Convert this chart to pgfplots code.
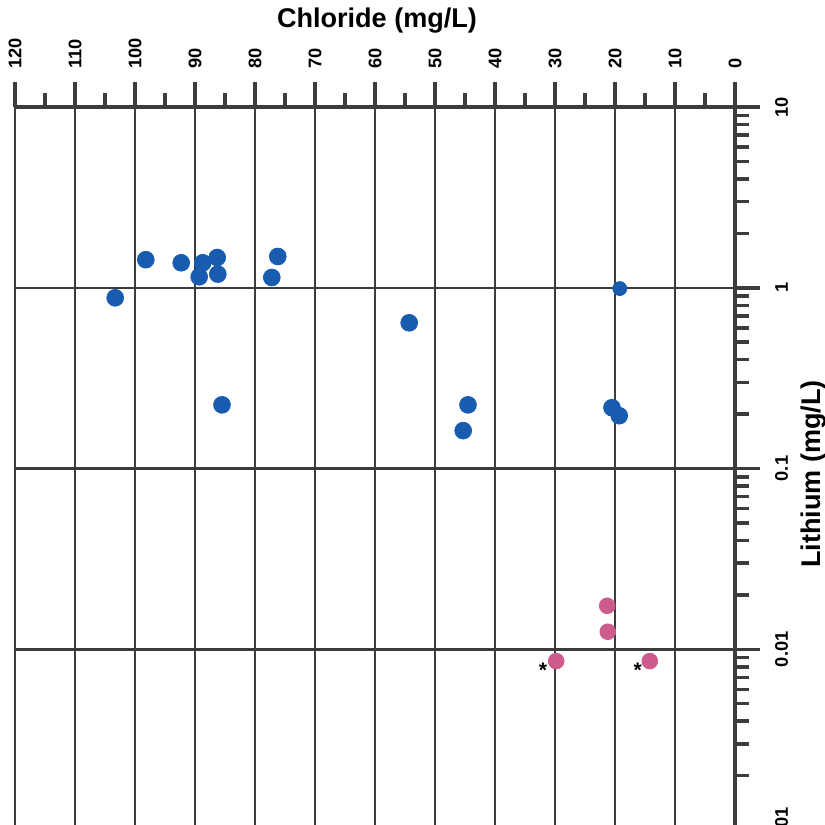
\documentclass[border=0pt]{standalone}
\usepackage{pgfplots}
\pgfplotsset{compat=1.18}
\usepackage{fontspec}
\setmainfont{Liberation Sans}
\definecolor{ptblue}{RGB}{24,92,176}
\definecolor{ptpink}{RGB}{205,92,140}
\definecolor{gridgray}{RGB}{60,60,60}
\begin{document}
\begin{tikzpicture}
\useasboundingbox (0,-16.5) rectangle (16.5,0);
\clip (0,-16.5) rectangle (16.5,0);
\begin{axis}[
  at={(0.3cm,-2.14cm)}, anchor=north west,
  scale only axis, width=14.4cm, height=14.46cm,
  xmin=0, xmax=120, x dir=reverse,
  ymode=log, ymin=0.001, ymax=10,
  axis x line*=top, axis y line*=right,
  axis line style={-, line width=0.08cm, color=gridgray},
  xtick={0,10,...,120},
  minor xtick={5,15,...,115},
  ytick={0.001,0.01,0.1,1,10},
  yticklabels={0.001,0.01,0.1,1,10},
  tick align=outside,
  major tick length=0.5cm, minor tick length=0.28cm,
  every tick/.style={gridgray, line width=0.07cm},
  grid=major,
  major grid style={gridgray, line width=0.05cm},
  /pgf/number format/assume math mode=true,
  xticklabel shift=0.14cm,
  yticklabel shift=0.18cm,
  xticklabel style={rotate=90, anchor=west, font=\bfseries\fontsize{10.4}{12}\selectfont},
  yticklabel style={rotate=90, anchor=north, font=\bfseries\fontsize{10.4}{12}\selectfont},
  clip=false,
]
\addplot[only marks, mark=*, mark size=4.8pt, color=ptblue, mark options={draw=ptblue, fill=ptblue}] coordinates {
  (98.2,1.43) (92.3,1.375) (88.7,1.375) (89.3,1.15) (86.3,1.47) (86.2,1.19)
  (76.2,1.49) (77.2,1.14) (103.3,0.88) (54.3,0.64) (85.5,0.225) (44.5,0.225)
  (45.3,0.162) (20.5,0.217) (19.3,0.196)
};
\addplot[only marks, mark=*, mark size=4.0pt, color=ptblue, mark options={draw=ptblue, fill=ptblue}] coordinates {
  (19.2,0.99)
};
\addplot[only marks, mark=*, mark size=4.5pt, color=ptpink, mark options={draw=ptpink, fill=ptpink}] coordinates {
  (21.3,0.0174) (21.2,0.0125) (29.8,0.0086) (14.2,0.0086)
};
\node[font=\bfseries\fontsize{12}{12}\selectfont] at (axis cs:32,0.0077) {*};
\node[font=\bfseries\fontsize{12}{12}\selectfont] at (axis cs:16.2,0.0077) {*};
\end{axis}
\node[font=\bfseries\fontsize{15.4}{18}\selectfont] at (7.54,-0.42) {Chloride (mg/L)};
\node[rotate=90, font=\bfseries\fontsize{15.4}{18}\selectfont] at (16.28,-9.48) {Lithium (mg/L)};
\end{tikzpicture}
\end{document}
